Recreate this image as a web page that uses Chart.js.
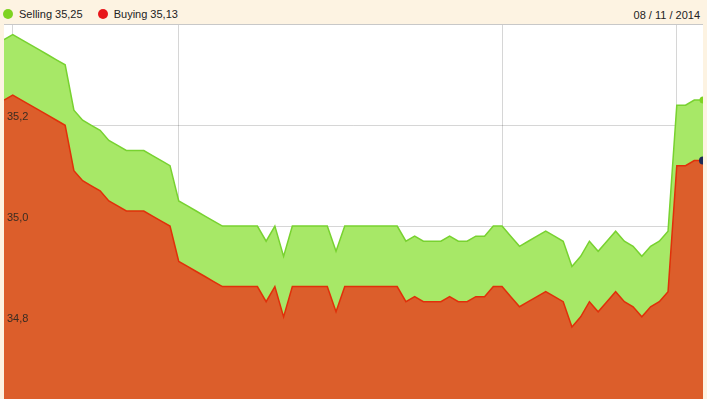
<!DOCTYPE html>
<html>
<head>
<meta charset="utf-8">
<script src="https://cdn.jsdelivr.net/npm/chart.js@4/dist/chart.umd.min.js"></script>
<style>
    html, body { margin: 0; padding: 0; }
    body { width: 707px; height: 399px; background: #fdf3e2; position: relative; overflow: hidden;
           font-family: "Liberation Sans", Arial, sans-serif; }
    .legend { position: absolute; top: 8px; left: 3px; font-size: 11px; color: #222; }
    .legend span.item { display: inline-block; margin-right: 12px; }
    .legend i { display: inline-block; width: 10px; height: 10px; border-radius: 50%;
                vertical-align: -1px; margin-right: 6px; }
    .date { position: absolute; top: 9px; right: 7px; font-size: 11px; color: #222; }
    #wrap { position: absolute; left: 4px; top: 24px; width: 699px; height: 375px;
            border-top: 1px solid #c8c8c8; background: #fff; }
</style>
</head>
<body>
<div class="legend">
    <span class="item"><i style="background:#7ed321"></i>Selling 35,25</span>
    <span class="item"><i style="background:#e8161a"></i>Buying 35,13</span>
</div>
<div class="date">08 / 11 / 2014</div>
<div id="wrap"><canvas id="myChart" width="699" height="374"></canvas></div>
<script>
// Selling rate
var selling = [
    35.37, 35.38, 35.37, 35.36, 35.35, 35.34, 35.33, 35.32, 35.23, 35.21,
    35.20, 35.19, 35.17, 35.16, 35.15, 35.15, 35.15, 35.14, 35.13, 35.12,
    35.05, 35.04, 35.03, 35.02, 35.01, 35.00, 35.00, 35.00, 35.00, 35.00,
    34.97, 35.00, 34.94, 35.00, 35.00, 35.00, 35.00, 35.00, 34.95, 35.00,
    35.00, 35.00, 35.00, 35.00, 35.00, 35.00, 34.97, 34.98, 34.97, 34.97,
    34.97, 34.98, 34.97, 34.97, 34.98, 34.98, 35.00, 35.00, 34.98, 34.96,
    34.97, 34.98, 34.99, 34.98, 34.97, 34.92, 34.94, 34.97, 34.95, 34.97,
    34.99, 34.97, 34.96, 34.94, 34.96, 34.97, 34.99, 35.24, 35.24, 35.25,
    35.25
];

// Buying rate
var buying = [
    35.25, 35.26, 35.25, 35.24, 35.23, 35.22, 35.21, 35.20, 35.11, 35.09,
    35.08, 35.07, 35.05, 35.04, 35.03, 35.03, 35.03, 35.02, 35.01, 35.00,
    34.93, 34.92, 34.91, 34.90, 34.89, 34.88, 34.88, 34.88, 34.88, 34.88,
    34.85, 34.88, 34.82, 34.88, 34.88, 34.88, 34.88, 34.88, 34.83, 34.88,
    34.88, 34.88, 34.88, 34.88, 34.88, 34.88, 34.85, 34.86, 34.85, 34.85,
    34.85, 34.86, 34.85, 34.85, 34.86, 34.86, 34.88, 34.88, 34.86, 34.84,
    34.85, 34.86, 34.87, 34.86, 34.85, 34.80, 34.82, 34.85, 34.83, 34.85,
    34.87, 34.85, 34.84, 34.82, 34.84, 34.85, 34.87, 35.12, 35.12, 35.13,
    35.13
];

// sample positions along the x axis (no labels shown)
var labels = selling.map(function (v, i) { return String(i); });

// samples where a vertical grid line is drawn
var dayLines = [1, 20, 57, 77];

// y tick values shown
var yTicks = [34.8, 35.0, 35.2];

var last = selling.length - 1;

// y labels sit inside the plot, just above their grid line
const yLabels = {
    id: 'yLabels',
    afterDraw(chart) {
        const c = chart.ctx;
        const y = chart.scales.y;
        c.save();
        c.font = '11px "Liberation Sans", Arial, sans-serif';
        c.fillStyle = '#3a2c22';
        c.textBaseline = 'middle';
        c.textAlign = 'left';
        yTicks.forEach(function (v) {
            c.fillText(v.toFixed(1).replace('.', ','), chart.chartArea.left + 3, y.getPixelForValue(v) - 8);
        });
        c.restore();
    }
};

const ctx = document.getElementById('myChart').getContext('2d');
const config = {
    type: 'line',
    data: {
        labels: labels,
        datasets: [{
            label: 'Buying',
            data: buying,
            order: 1,
            borderColor: '#e0300a',
            borderWidth: 1.5,
            backgroundColor: '#dc5e2b',
            fill: 'start',
            tension: 0,
            pointRadius: (c) => c.dataIndex === last ? 4 : 0,
            pointBackgroundColor: '#1d2b55',
            pointBorderWidth: 0
        }, {
            label: 'Selling',
            data: selling,
            order: 2,
            borderColor: '#78d230',
            borderWidth: 1.5,
            backgroundColor: '#a7e867',
            fill: 'start',
            tension: 0,
            pointRadius: (c) => c.dataIndex === last ? 3.5 : 0,
            pointBackgroundColor: '#7ed321',
            pointBorderWidth: 0
        }]
    },
    options: {
        responsive: false,
        animation: false,
        layout: { padding: 0, autoPadding: false },
        plugins: {
            legend: { display: false },
            tooltip: { enabled: false }
        },
        scales: {
            x: {
                type: 'category',
                offset: false,
                z: 1,
                border: { display: false },
                grid: {
                    drawTicks: false,
                    color: (c) => dayLines.indexOf(c.index) >= 0 ? 'rgba(0,0,0,0.16)' : 'rgba(0,0,0,0)'
                },
                ticks: { display: false, autoSkip: false }
            },
            y: {
                min: 34.657,
                max: 35.399,
                z: 1,
                border: { display: false },
                grid: { drawTicks: false, color: 'rgba(0,0,0,0.16)' },
                ticks: { display: false, stepSize: 0.2, includeBounds: false }
            }
        }
    },
    plugins: [yLabels]
};

const myChart = new Chart(ctx, config);
</script>
</body>
</html>
